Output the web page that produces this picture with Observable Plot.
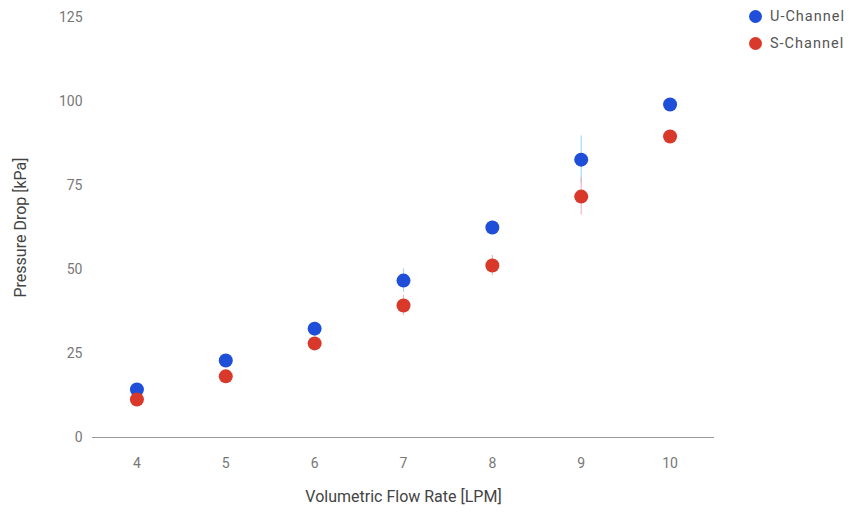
<!DOCTYPE html>
<html>
<head>
<meta charset="utf-8">
<script src="https://cdn.jsdelivr.net/npm/d3@7"></script>
<script src="https://cdn.jsdelivr.net/npm/@observablehq/plot@0.6"></script>
<style>
  body { margin: 0; background: #fff; font-family: Roboto, "Noto Sans", sans-serif; }
  #wrap { position: relative; width: 849px; height: 512px; }
  .legend { position: absolute; left: 749px; font-size: 14.5px; letter-spacing: 1px; color: #555; display: flex; align-items: center; }
  .legend span.dot { width: 13px; height: 13px; border-radius: 50%; display: inline-block; margin-right: 8px; }
</style>
</head>
<body>
<div id="wrap"></div>
<script>
const flowRates = [4, 5, 6, 7, 8, 9, 10];
const uChannel = [14.3, 22.9, 32.4, 46.7, 62.5, 82.7, 99.1];
const sChannel = [11.3, 18.2, 28.0, 39.3, 51.2, 71.7, 89.6];
const uError = [1.0, 1.5, 2.0, 3.5, 2.0, 7.0, 1.5];
const sError = [1.0, 1.0, 1.5, 3.0, 3.0, 5.5, 1.5];
const seriesNames = ["U-Channel", "S-Channel"];
const seriesColors = ["#1f4fd8", "#d9392b"];
const errorColors = ["#8fd0f5", "#f3a3b6"];
const yTicks = [0, 25, 50, 75, 100, 125];

const rows = [];
flowRates.forEach((x, i) => {
  rows.push({x, y: uChannel[i], e: uError[i], s: seriesNames[0]});
  rows.push({x, y: sChannel[i], e: sError[i], s: seriesNames[1]});
});

const plot = Plot.plot({
  width: 849,
  height: 512,
  marginLeft: 92,
  marginRight: 135,
  marginTop: 17,
  marginBottom: 75,
  style: {fontFamily: "Roboto, sans-serif", fontSize: "14px", color: "#777", background: "#fff"},
  x: {domain: [3.5, 10.5]},
  y: {domain: [0, 125]},
  color: {domain: seriesNames, range: seriesColors},
  marks: [
    Plot.axisX({tickSize: 0, tickPadding: 21, ticks: flowRates, tickFormat: d => String(d), label: null, color: "#777", fontSize: 14}),
    Plot.axisY({tickSize: 0, tickPadding: 10, ticks: yTicks, tickFormat: d => String(d), label: null, color: "#777", fontSize: 14}),
    Plot.ruleY([0], {stroke: "#999", strokeWidth: 1}),
    Plot.ruleX(rows, {x: "x", y1: d => d.y - d.e, y2: d => d.y + d.e, stroke: d => errorColors[seriesNames.indexOf(d.s)], strokeOpacity: 0.8, strokeWidth: 1.2}),
    Plot.dot(rows, {x: "x", y: "y", fill: "s", r: 7}),
    Plot.text(["Volumetric Flow Rate [LPM]"], {frameAnchor: "bottom", dy: 64, fontSize: 16, fill: "#444", letterSpacing: 0.7}),
    Plot.text(["Pressure Drop [kPa]"], {frameAnchor: "left", textAnchor: "middle", dx: -72, rotate: -90, fontSize: 16, fill: "#444", letterSpacing: 0.5})
  ]
});
plot.style.position = "absolute";
plot.style.left = "0px";
plot.style.top = "0px";
const wrap = document.getElementById("wrap");
wrap.appendChild(plot);

seriesNames.forEach((name, i) => {
  const d = document.createElement("div");
  d.className = "legend";
  d.style.top = (8 + i * 27) + "px";
  d.innerHTML = `<span class="dot" style="background:${seriesColors[i]}"></span>${name}`;
  wrap.appendChild(d);
});
</script>
</body>
</html>
